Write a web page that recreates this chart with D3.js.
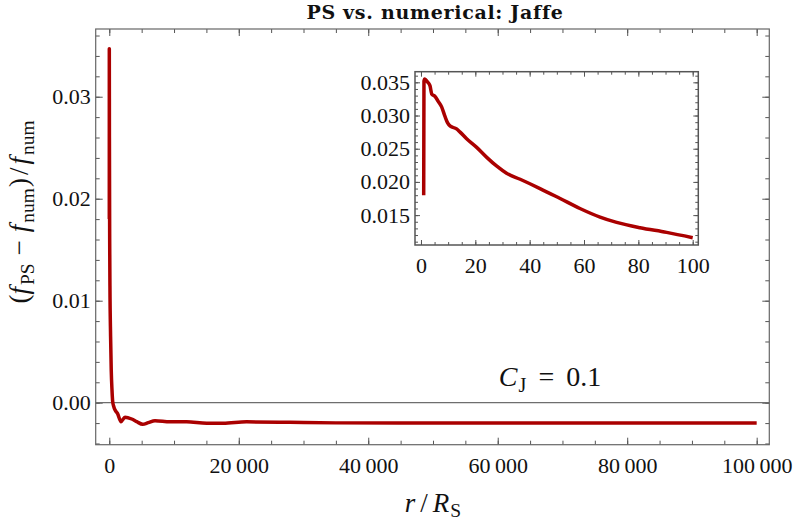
<!DOCTYPE html>
<html>
<head>
<meta charset="utf-8">
<script src="https://cdn.jsdelivr.net/npm/d3@7"></script>
<style>
  body { margin: 0; background: #fff; }
</style>
</head>
<body>
<div id="chart"></div>
<script>
// main curve, r / R_S vs relative difference
const mainR = [1, 2, 20, 60, 100, 200, 300, 420, 525, 700, 880, 1300, 1810, 2425, 3460, 4230, 5160, 6020, 7060, 9380, 11950, 15040, 17600, 21200, 27900, 35000, 45000, 60000, 80000, 100000]
const mainDiff = [0.018, 0.0347, 0.026, 0.016, 0.0115, 0.0065, 0.0032, 0.0012, 0.0001, -0.0004, -0.0007, -0.0011, -0.00186, -0.00143, -0.0016, -0.00186, -0.00212, -0.00196, -0.00176, -0.00186, -0.00186, -0.00202, -0.00202, -0.00188, -0.00192, -0.00198, -0.002, -0.002, -0.002, -0.002]

// inset, first 100 R_S
const insetR = [1, 1.1, 1.4, 2.3, 3.3, 4.0, 5.1, 6.4, 7.6, 8.8, 9.8, 10.8, 13.1, 14.4, 16.8, 20.5, 24.2, 27.8, 31.5, 36.5, 43.8, 51.2, 58.5, 65.9, 72, 80.6, 90.4, 100]
const insetDiff = [0.018, 0.0352, 0.0355, 0.0351, 0.0345, 0.0332, 0.0329, 0.0321, 0.0313, 0.0299, 0.0289, 0.0284, 0.028, 0.0275, 0.0265, 0.0252, 0.0237, 0.0224, 0.0213, 0.0204, 0.019, 0.0175, 0.016, 0.0147, 0.0139, 0.0131, 0.0124, 0.0116]

const mainXTicks = [0, 20000, 40000, 60000, 80000, 100000]
const mainYTicks = [0, 0.01, 0.02, 0.03]
const insetXTicks = [0, 20, 40, 60, 80, 100]
const insetYTicks = [0.015, 0.02, 0.025, 0.03, 0.035]
const titleText = 'PS vs. numerical: Jaffe'

const width = 793
const height = 531
const frame = { left: 95.7, top: 29, right: 769.3, bottom: 444.7 }
const inset = { left: 415, top: 71.7, right: 698.3, bottom: 245 }
const lineColor = '#aa0000'
const serif = 'Liberation Serif, serif'

const svg = d3
  .select('#chart')
  .append('svg')
  .attr('width', width)
  .attr('height', height)
  .attr('font-family', serif)

svg.append('rect').attr('width', width).attr('height', height).attr('fill', '#fff')

const x = d3.scaleLinear().domain([-2100, 101950]).range([frame.left, frame.right])
const y = d3.scaleLinear().domain([-0.00412, 0.03664]).range([frame.bottom, frame.top])

const xi = d3.scaleLinear().domain([-2.2, 102.06]).range([inset.left, inset.right])
const yi = d3.scaleLinear().domain([0.0105, 0.0366]).range([inset.bottom, inset.top])

function frameTicks(box, xs, ys, xMajor, xMinor, yMajor, yMinor, majorLen, minorLen) {
  const g = svg.append('g')
  const sides = [
    [d3.axisBottom, xs, box.bottom, 'x'],
    [d3.axisTop, xs, box.top, 'x'],
    [d3.axisLeft, ys, box.left, 'y'],
    [d3.axisRight, ys, box.right, 'y']
  ]
  sides.forEach(([axisFn, scale, pos, dir]) => {
    const t = dir === 'x' ? 'translate(0,' + pos + ')' : 'translate(' + pos + ',0)'
    ;[[dir === 'x' ? xMinor : yMinor, minorLen], [dir === 'x' ? xMajor : yMajor, majorLen]].forEach(([vals, len]) => {
      const a = g.append('g').attr('transform', t)
        .call(axisFn(scale).tickValues(vals).tickSize(-len).tickFormat(''))
      a.select('.domain').remove()
      a.selectAll('line').attr('stroke', '#555').attr('stroke-width', 1)
    })
  })
}

function styleLabels(sel) {
  sel.select('.domain').remove()
  sel.selectAll('text')
    .attr('font-size', 22)
    .attr('font-family', serif)
    .attr('fill', '#111')
}

// main frame ticks
frameTicks(frame, x, y, mainXTicks,
  d3.range(0, 21).map(i => i * 5000),
  mainYTicks,
  d3.range(-2, 19).map(i => i * 0.002),
  7, 4)

// zero axis
svg.append('line')
  .attr('x1', frame.left).attr('x2', frame.right)
  .attr('y1', y(0)).attr('y2', y(0))
  .attr('stroke', '#6e6e6e').attr('stroke-width', 1.3)

// main frame
svg.append('rect')
  .attr('x', frame.left).attr('y', frame.top)
  .attr('width', frame.right - frame.left).attr('height', frame.bottom - frame.top)
  .attr('fill', 'none').attr('stroke', '#666').attr('stroke-width', 1.2)

// main tick labels
svg.append('g').attr('transform', 'translate(0,' + frame.bottom + ')')
  .call(d3.axisBottom(x).tickValues(mainXTicks).tickSize(0).tickPadding(13)
    .tickFormat(d => d3.format(',')(d).replace(/,/g, '\u2009')))
  .call(styleLabels)

svg.append('g').attr('transform', 'translate(' + frame.left + ',0)')
  .call(d3.axisLeft(y).tickValues(mainYTicks).tickSize(0).tickPadding(5).tickFormat(d3.format('.2f')))
  .call(styleLabels)

// main curve
const mainData = mainR.map((r, i) => ({ r: r, v: mainDiff[i] }))
svg.append('path')
  .datum(mainData)
  .attr('fill', 'none')
  .attr('stroke', lineColor)
  .attr('stroke-width', 3.5)
  .attr('stroke-linejoin', 'round')
  .attr('d', d3.line().x(d => x(d.r)).y(d => y(d.v)).curve(d3.curveMonotoneX))

// inset background + ticks
svg.append('rect')
  .attr('x', inset.left).attr('y', inset.top)
  .attr('width', inset.right - inset.left).attr('height', inset.bottom - inset.top)
  .attr('fill', '#fff')

frameTicks(inset, xi, yi, insetXTicks,
  d3.range(0, 21).map(i => i * 5),
  insetYTicks,
  d3.range(11, 37).map(i => i * 0.001),
  5, 3)

svg.append('rect')
  .attr('x', inset.left).attr('y', inset.top)
  .attr('width', inset.right - inset.left).attr('height', inset.bottom - inset.top)
  .attr('fill', 'none').attr('stroke', '#555').attr('stroke-width', 1.5)

svg.append('g').attr('transform', 'translate(0,' + inset.bottom + ')')
  .call(d3.axisBottom(xi).tickValues(insetXTicks).tickSize(0).tickPadding(12))
  .call(styleLabels)

svg.append('g').attr('transform', 'translate(' + inset.left + ',0)')
  .call(d3.axisLeft(yi).tickValues(insetYTicks).tickSize(0).tickPadding(5).tickFormat(d3.format('.3f')))
  .call(styleLabels)

const insetData = insetR.map((r, i) => ({ r: r, v: insetDiff[i] }))
svg.append('path')
  .datum(insetData)
  .attr('fill', 'none')
  .attr('stroke', lineColor)
  .attr('stroke-width', 3.5)
  .attr('stroke-linejoin', 'round')
  .attr('d', d3.line().x(d => xi(d.r)).y(d => yi(d.v)).curve(d3.curveMonotoneX))

// title
svg.append('text')
  .text(titleText)
  .attr('x', 435)
  .attr('y', 18.5)
  .attr('text-anchor', 'middle')
  .attr('font-family', 'DejaVu Serif')
  .attr('font-weight', 'bold')
  .attr('font-size', 19)
  .attr('letter-spacing', 0.7)
  .attr('fill', '#111')

// math helper: parts = [text, style]; style 'i' italic, 'sub' subscript, 'gap' = dx in px
function mathText(sel, parts) {
  let shifted = false
  let pending = 0
  parts.forEach(([s, style]) => {
    if (style === 'gap') { pending += s; return }
    const t = sel.append('tspan').text(s)
    if (pending) { t.attr('dx', pending); pending = 0 }
    if (style === 'i') t.attr('font-style', 'italic')
    if (style === 'sub') {
      t.attr('font-size', '72%').attr('dy', shifted ? 0 : '0.3em')
      shifted = true
    } else if (shifted) {
      t.attr('dy', '-0.216em')
      shifted = false
    }
  })
}

// y label
const yTitle = svg.append('text')
  .attr('transform', 'translate(28,' + 212 + ') rotate(-90)')
  .attr('text-anchor', 'middle')
  .attr('font-size', 27)
  .attr('fill', '#111')
mathText(yTitle, [['(', ''], ['f', 'i'], [2, 'gap'], ['PS', 'sub'], [8, 'gap'], ['\u2212', ''], [8, 'gap'], ['f', 'i'], [2, 'gap'], ['num', 'sub'], [1, 'gap'], [')', ''], [3, 'gap'], ['/', ''], [3, 'gap'], ['f', 'i'], [2, 'gap'], ['num', 'sub']])

// x label
const xTitle = svg.append('text')
  .attr('x', 433)
  .attr('y', 511.5)
  .attr('text-anchor', 'middle')
  .attr('font-size', 27)
  .attr('fill', '#111')
mathText(xTitle, [['r', 'i'], [5, 'gap'], ['/', ''], [5, 'gap'], ['R', 'i'], [1, 'gap'], ['S', 'sub']])

// annotation
const note = svg.append('text')
  .attr('x', 550)
  .attr('y', 386)
  .attr('text-anchor', 'middle')
  .attr('font-size', 28)
  .attr('fill', '#111')
mathText(note, [['C', 'i'], [1, 'gap'], ['J', 'sub'], [12, 'gap'], ['=', ''], [12, 'gap'], ['0.1', '']])
</script>
</body>
</html>
